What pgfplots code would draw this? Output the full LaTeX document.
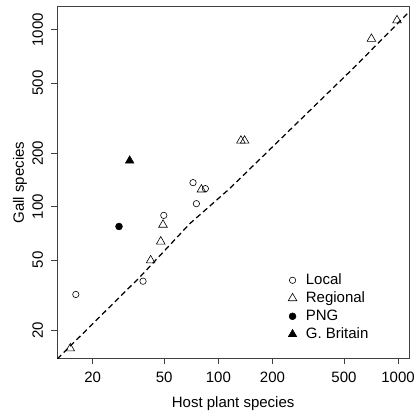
\documentclass[border=0pt]{standalone}
\usepackage{fontspec}
\setmainfont{Liberation Sans}
\usepackage{pgfplots}
\pgfplotsset{compat=1.18}
\begin{document}
\fontsize{15}{18}\selectfont
\begin{tikzpicture}
\path[use as bounding box] (-57.3pt,-52.7pt) rectangle (357.7pt,358.3pt);
\begin{axis}[
  at={(0pt,0pt)}, anchor=south west,
  scale only axis, width=351.7pt, height=351.6pt,
  xmode=log, ymode=log,
  xmin=12.7, xmax=1151, ymin=13.9, ymax=1350,
  xtick={20,50,100,200,500,1000}, xticklabels={20,50,100,200,500,1000},
  ytick={20,50,100,200,500,1000}, yticklabels={20,50,100,200,500,1000},
  xminorticks=false, yminorticks=false,
  tick align=outside, major tick length=6pt, tick pos=left,
  tick style={black!75, line width=0.7pt},
  axis line style={black!75, line width=0.8pt},
  yticklabel style={rotate=90, anchor=south},
  yticklabel shift=3pt, xticklabel shift=2.7pt,
  ticklabel style={font=\fontsize{15}{18}\selectfont},
  xlabel={Host plant species}, ylabel={Gall species},
  xlabel style={at={(axis description cs:0.5,-0.1405)}, anchor=base, font=\fontsize{15}{18}\selectfont},
  ylabel style={at={(axis description cs:-0.0947,0.5)}, anchor=base, rotate=0, font=\fontsize{15}{18}\selectfont},
  legend style={draw=none, fill=none, inner sep=0pt, column sep=7pt,
    at={(0.656,0.248)}, anchor=north west,
    font=\fontsize{15}{18}\selectfont,
    nodes={inner sep=2pt, text height=11pt, text depth=3pt}},
  legend cell align=left,
]
\addplot[black, line width=1.25pt, dash pattern=on 5.5pt off 3.5pt, forget plot] coordinates {
  (12.7,13.8) (36.5,39.9) (69.3,80.1) (115.6,126.5) (574,617) (1132,1239)
};
\addplot[only marks, mark=o, mark size=3.2pt, black, mark options={line width=0.6pt}] coordinates {
  (16.1,31.9) (38.1,37.9) (49.7,89.3) (72.3,136.7) (75.5,104) (84.7,126.5)
};
\addlegendentry{Local}
\addplot[only marks, mark=triangle, mark size=5pt, black, mark options={line width=0.6pt}] coordinates {
  (15.0,15.8) (42.0,49.7) (47.8,63.5) (49.2,79) (80.5,125) (133.5,236) (140,236) (711,888) (987,1130)
};
\addlegendentry{Regional}
\addplot[only marks, mark=*, mark size=3.5pt, black] coordinates {
  (28.0,77.3)
};
\addlegendentry{PNG}
\addplot[only marks, mark=triangle*, mark size=5pt, black] coordinates {
  (32.1,182)
};
\addlegendentry{G. Britain}
\end{axis}
\end{tikzpicture}
\end{document}
